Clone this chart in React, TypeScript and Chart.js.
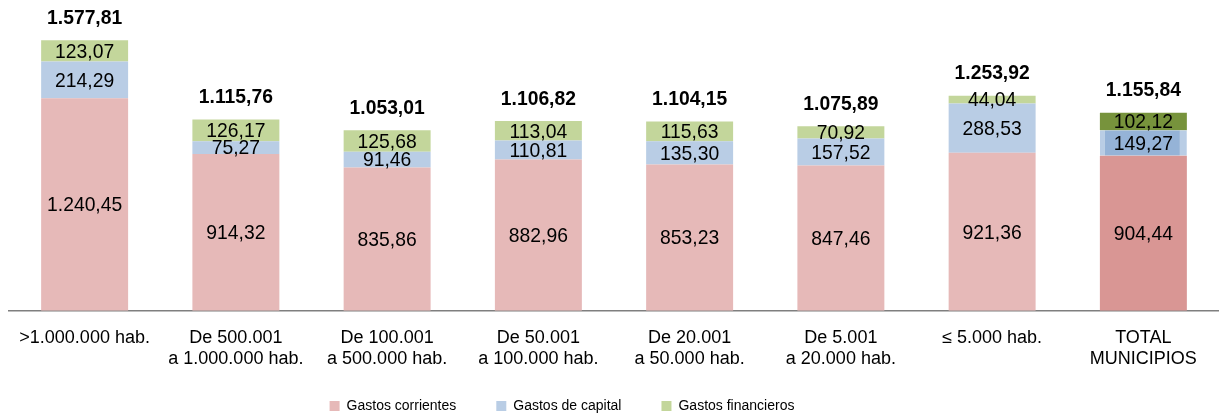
import React, { useEffect, useRef } from "react";
import { Chart, registerables } from "chart.js";

Chart.register(...registerables);

const categories: string[][] = [
  [">1.000.000 hab."],
  ["De 500.001", "a 1.000.000 hab."],
  ["De 100.001", "a 500.000 hab."],
  ["De 50.001", "a 100.000 hab."],
  ["De 20.001", "a 50.000 hab."],
  ["De 5.001", "a 20.000 hab."],
  ["≤ 5.000 hab."],
  ["TOTAL", "MUNICIPIOS"],
];
const gastosCorrientes = [1240.45, 914.32, 835.86, 882.96, 853.23, 847.46, 921.36, 904.44];
const gastosCapital = [214.29, 75.27, 91.46, 110.81, 135.3, 157.52, 288.53, 149.27];
const gastosFinancieros = [123.07, 126.17, 125.68, 113.04, 115.63, 70.92, 44.04, 102.12];
const totales = [1577.81, 1115.76, 1053.01, 1106.82, 1104.15, 1075.89, 1253.92, 1155.84];

const FONT = "'Liberation Sans', Arial, sans-serif";

const fmt = (v: number) => {
  const [i, d] = v.toFixed(2).split(".");
  return i.replace(/\B(?=(\d{3})+(?!\d))/g, ".") + "," + d;
};

const pink = "#E6B9B8";
const blue = "#B9CDE5";
const green = "#C3D69B";
const pinkT = "#D99694";
const blueT = "#95B3D7";
const greenT = "#77933C";

const n = categories.length;
const colorsFor = (base: string, tot: string) =>
  categories.map((_, i) => (i === n - 1 ? tot : base));

const drawScaled = (ctx: any, text: string, x: number, y: number, sx: number) => {
  ctx.save();
  ctx.translate(x, y);
  ctx.scale(sx, 1);
  ctx.fillText(text, 0, 0);
  ctx.restore();
};

const labelsPlugin = {
  id: "segLabels",
  afterDatasetsDraw(chart: any) {
    const ctx = chart.ctx;
    ctx.save();
    ctx.textAlign = "center";
    ctx.textBaseline = "middle";
    ctx.fillStyle = "#000";
    ctx.font = `21px ${FONT}`;
    chart.data.datasets.forEach((ds: any, di: number) => {
      const meta = chart.getDatasetMeta(di);
      meta.data.forEach((el: any, i: number) => {
        const y = (el.y + el.base) / 2 + 1;
        drawScaled(ctx, fmt(ds.data[i]), el.x, y, 0.92);
      });
    });
    const last = chart.getDatasetMeta(chart.data.datasets.length - 1);
    ctx.font = `bold 20px ${FONT}`;
    last.data.forEach((el: any, i: number) => {
      drawScaled(ctx, fmt(totales[i]), el.x, el.y - 22, 0.965);
    });
    ctx.restore();
  },
};

const legendShift = {
  id: "legendShift",
  beforeDraw(chart: any) {
    const lg = chart.legend;
    if (lg && !lg._shifted) {
      lg.left -= 52;
      lg.right -= 52;
      lg.top -= 27;
      lg.bottom = chart.height;
      lg._shifted = true;
    }
  },
};

export default function App() {
  const ref = useRef<HTMLCanvasElement>(null);
  useEffect(() => {
    if (!ref.current) return;
    const chart = new Chart(ref.current, {
      type: "bar",
      data: {
        labels: categories,
        datasets: [
          {
            label: "Gastos corrientes",
            data: gastosCorrientes,
            backgroundColor: colorsFor(pink, pinkT),
            borderWidth: 0,
          },
          {
            label: "Gastos de capital",
            data: gastosCapital,
            backgroundColor: colorsFor(blue, blueT),
            borderColor: blue,
            borderWidth: categories.map((_, i) =>
              i === n - 1 ? { left: 5, right: 7, top: 0, bottom: 0 } : 0
            ) as any,
            borderSkipped: false,
          },
          {
            label: "Gastos financieros",
            data: gastosFinancieros,
            backgroundColor: colorsFor(green, greenT),
            borderWidth: 0,
          },
        ],
      },
      options: {
        responsive: false,
        animation: false,
        layout: { padding: { left: 9, right: 0, top: 0, bottom: 0 } },
        datasets: {
          bar: { categoryPercentage: 1, barPercentage: 0.575 },
        },
        scales: {
          x: {
            stacked: true,
            grid: { display: false, drawTicks: false },
            border: { display: true, color: "#7F7F7F", width: 1.5 },
            ticks: {
              color: "#000",
              padding: 16,
              maxRotation: 0,
              autoSkip: false,
              font: { family: FONT, size: 18, lineHeight: 1.2 },
            },
          },
          y: {
            stacked: true,
            display: false,
            min: 0,
            max: 1813,
          },
        },
        plugins: {
          legend: {
            position: "bottom",
            maxHeight: 28,
            labels: {
              boxWidth: 10,
              boxHeight: 10,
              padding: 40,
              color: "#000",
              font: { family: FONT, size: 14 },
              generateLabels: (c: any) =>
                c.data.datasets.map((ds: any, i: number) => ({
                  text: ds.label,
                  fillStyle: [pink, blue, green][i],
                  strokeStyle: [pink, blue, green][i],
                  lineWidth: 0,
                  datasetIndex: i,
                  hidden: false,
                })),
            },
          } as any,
          tooltip: { enabled: false },
        },
      },
      plugins: [labelsPlugin, legendShift],
    });
    return () => chart.destroy();
  }, []);
  return (
    <div style={{ position: "absolute", left: 0, top: 0, width: 1219, height: 414, background: "#fff" }}>
      <canvas ref={ref} width={1219} height={414} />
    </div>
  );
}
